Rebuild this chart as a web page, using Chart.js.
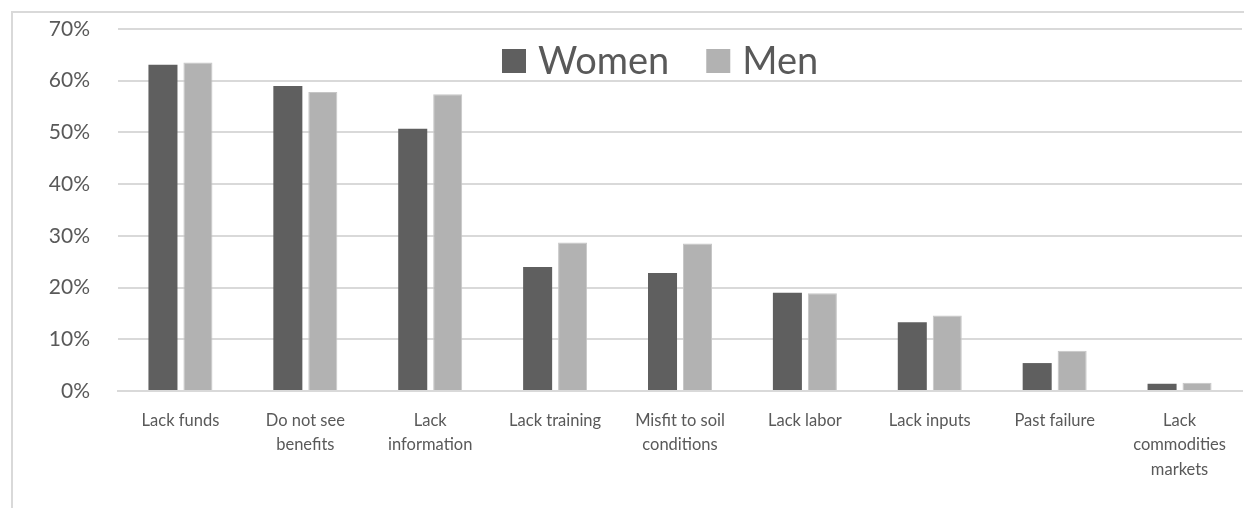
<!DOCTYPE html>
<html>
<head>
<meta charset="utf-8">
<script src="https://cdn.jsdelivr.net/npm/chart.js@4.4.1/dist/chart.umd.min.js"></script>
<style>
    html, body { margin: 0; padding: 0; background: #fff; overflow: hidden; }
    #wrap { width: 1244px; height: 508px; position: relative; }
</style>
</head>
<body>
<div id="wrap"><canvas id="barriersChart"></canvas></div>
<script>
const categories = [
    'Lack funds',
    ['Do not see', 'benefits'],
    ['Lack', 'information'],
    'Lack training',
    ['Misfit to soil', 'conditions'],
    'Lack labor',
    'Lack inputs',
    'Past failure',
    ['Lack', 'commodities', 'markets']
];
const womenValues = [63.1, 59.0, 50.7, 24.0, 22.8, 19.0, 13.3, 5.4, 1.4];
const menValues = [63.5, 57.8, 57.4, 28.7, 28.5, 18.9, 14.6, 7.8, 1.6];
const yTicks = [0, 10, 20, 30, 40, 50, 60, 70];

const FONT = 'Lato, "Open Sans", sans-serif';

// frame lines on the left and top, like the pasted chart object
const framePlugin = {
    id: 'frame',
    beforeDraw(chart) {
        const c = chart.ctx;
        c.save();
        c.strokeStyle = '#d9d9d9';
        c.lineWidth = 2;
        c.beginPath();
        c.moveTo(12, chart.height);
        c.lineTo(12, 12);
        c.lineTo(chart.width, 12);
        c.stroke();
        c.restore();
    }
};

// legend drawn inside the plot area, centred near the top
const insideLegend = {
    id: 'insideLegend',
    afterDraw(chart) {
        const c = chart.ctx;
        c.save();
        c.font = '38px ' + FONT;
        c.textBaseline = 'middle';
        let x = 502;
        const y = 61;
        chart.data.datasets.forEach((ds) => {
            c.fillStyle = ds.backgroundColor;
            c.fillRect(x, y - 12, 24, 24);
            c.fillStyle = '#595959';
            c.fillText(ds.label, x + 36, y + 1);
            x += 36 + c.measureText(ds.label).width + 37;
        });
        c.restore();
    }
};

document.addEventListener('DOMContentLoaded', () => {
    const ctx = document.getElementById('barriersChart').getContext('2d');

    new Chart(ctx, {
        type: 'bar',
        data: {
            labels: categories,
            datasets: [{
                label: 'Women',
                data: womenValues,
                backgroundColor: '#5f5f5f',
                borderWidth: 0,
                categoryPercentage: 0.56,
                barPercentage: 0.83
            }, {
                label: 'Men',
                data: menValues,
                backgroundColor: '#b2b2b2',
                borderColor: '#c6c6c6',
                borderWidth: 1,
                categoryPercentage: 0.56,
                barPercentage: 0.83
            }]
        },
        options: {
            responsive: true,
            maintainAspectRatio: false,
            animation: false,
            layout: { padding: { left: 0, top: 29, right: 2, bottom: 0 } },
            plugins: {
                legend: { display: false },
                tooltip: { enabled: false }
            },
            scales: {
                x: {
                    afterFit: (scale) => { scale.height = 117; },
                    grid: { display: false },
                    border: { color: '#d9d9d9', width: 2 },
                    ticks: {
                        color: '#595959',
                        font: { family: FONT, size: 16.5, lineHeight: 1.5 },
                        padding: 9,
                        maxRotation: 0,
                        autoSkip: false
                    }
                },
                y: {
                    min: 0,
                    max: 70,
                    afterBuildTicks: (scale) => {
                        scale.ticks = yTicks.map(v => ({ value: v }));
                    },
                    afterFit: (scale) => { scale.width = 118; },
                    // invisible tick marks give the gap between labels and plot
                    grid: { color: '#d9d9d9', lineWidth: 2, tickLength: 24, tickColor: 'rgba(0,0,0,0)' },
                    border: { display: false },
                    ticks: {
                        color: '#595959',
                        font: { family: FONT, size: 21 },
                        padding: 4,
                        callback: (v) => v + '%'
                    }
                }
            }
        },
        plugins: [framePlugin, insideLegend]
    });
});
</script>
</body>
</html>
